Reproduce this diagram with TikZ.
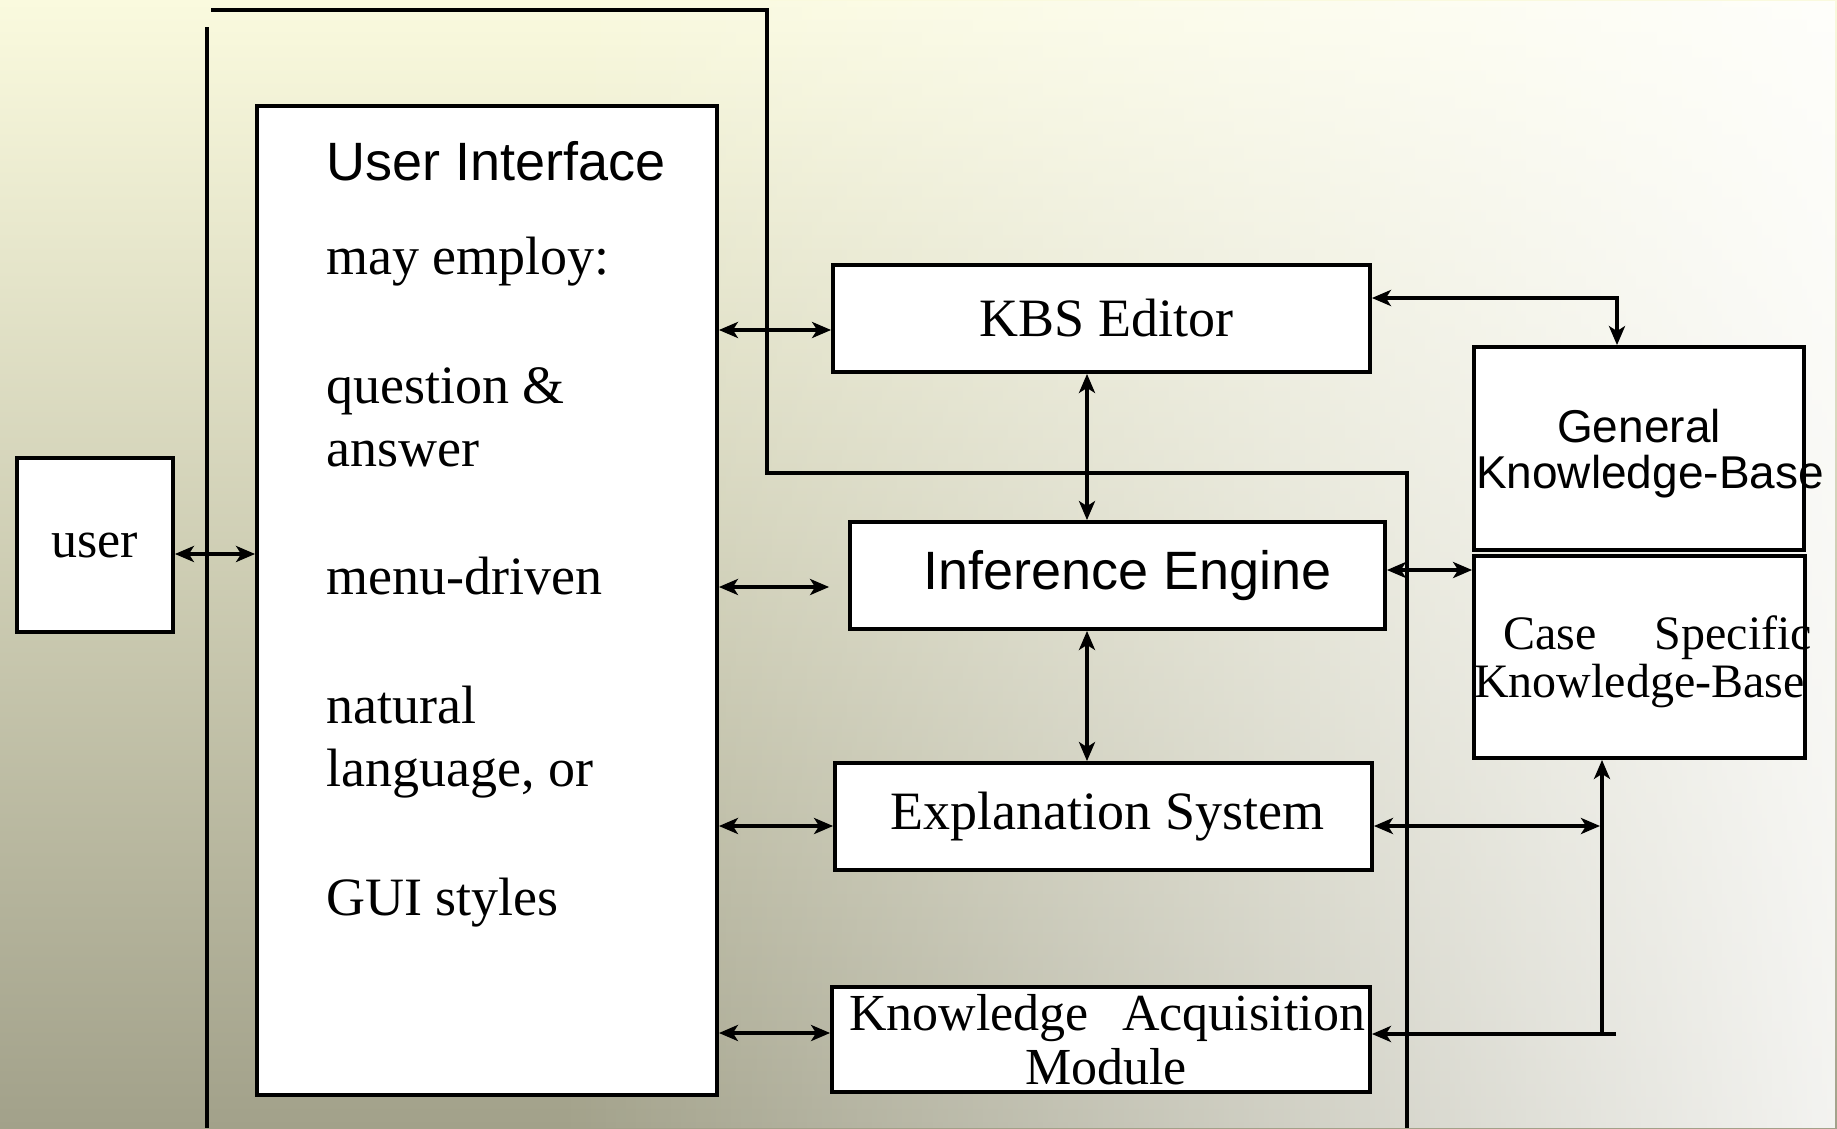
\documentclass[tikz,border=0pt]{standalone}
\usepackage{fontspec}
\setmainfont{Liberation Serif}
\newfontfamily\arialfont{Liberation Sans}
\usetikzlibrary{arrows.meta,fadings,calc}

\definecolor{bgtop}{HTML}{FAFADE}
\definecolor{bgmid}{HTML}{DAD9B9}
\definecolor{bgbot}{HTML}{A2A18A}

% white wash that grows towards the right edge
\tikzfading[name=washright, left color=transparent!100, middle color=transparent!72, right color=transparent!0]

\begin{document}
\begin{tikzpicture}[x=1pt,y=-1pt,
  box/.style={draw=black, line width=3.8pt, fill=white, inner sep=0pt, align=center},
  tipx/.tip={Stealth[length=19pt,width=16pt,inset=5pt]},
  link/.style={line width=3.4pt, tipx-tipx},
  onelink/.style={line width=3.4pt, -tipx},
  wire/.style={line width=3.4pt},
  serif/.style={font=\fontsize{54}{60}\selectfont},
  sans/.style={font=\arialfont\fontsize{54}{60}\selectfont},
  uitext/.style={anchor=base west, inner sep=0pt, serif},
  kbtext/.style={inner sep=0pt, align=center}]

% background
\useasboundingbox (0,0) rectangle (1837,1128);
\shade[top color=bgtop, middle color=bgmid, bottom color=bgbot] (0,0) rectangle (1837,1128);
\fill[white, path fading=washright, fill opacity=0.88] (560,0) rectangle (1837,1128);

% bus lines
\coordinate (busA) at (207,27);
\coordinate (busAend) at (207,1128);
\coordinate (busB) at (211,10);
\coordinate (busB1) at (767,10);
\coordinate (busB2) at (767,473);
\coordinate (busB3) at (1407,473);
\coordinate (busBend) at (1407,1128);
\draw[wire] (busA) -- (busAend);
\draw[wire] (busB) -- (busB1) -- (busB2) -- (busB3) -- (busBend);

% boxes
\node[box, minimum width=156pt, minimum height=174pt, font=\fontsize{52}{56}\selectfont] (user) at (95,545) {user};
\node[box, minimum width=460pt, minimum height=989pt] (ui) at (487,600.5) {};
\node[box, minimum width=537pt, minimum height=107pt, serif] (kbs) at (1101.5,318.5) {\makebox[0pt]{\hspace{10pt}KBS Editor}};
\node[box, minimum width=535pt, minimum height=107pt, font=\arialfont\fontsize{54}{60}\selectfont] (ie) at (1117.5,575.5) {\makebox[0pt]{\hspace{20pt}Inference Engine}};
\node[box, minimum width=537pt, minimum height=107pt, serif] (es) at (1103.5,816.5) {\makebox[0pt]{\hspace{8pt}Explanation System}};
\node[box, minimum width=538pt, minimum height=105pt, font=\fontsize{52}{54}\selectfont] (kam) at (1101,1039.5)
  {\makebox[0pt]{\hspace{12pt}\makebox[516pt]{Knowledge\hfill Acquisition}}\\\makebox[0pt]{\hspace{10pt}Module}};
\node[box, minimum width=330pt, minimum height=203pt] (gkb) at (1639,448.5) {};
\node[box, minimum width=331pt, minimum height=202pt] (cskb) at (1639.5,657) {};

% knowledge-base labels, drawn over the box borders
\node[kbtext, font=\arialfont\fontsize{46}{46}\selectfont] (gkbtext) at ($(gkb.center)+(0,5)$)
  {\makebox[0pt]{General}\\\makebox[0pt]{\hspace{22pt}Knowledge-Base}};
\node[kbtext, font=\fontsize{48}{48}\selectfont] (cskbtext) at ($(cskb.center)+(0,5)$)
  {\makebox[0pt]{\hspace{36pt}\makebox[309pt]{Case\hfill Specific}}\\\makebox[0pt]{Knowledge-Base}};

% user interface contents
\node[uitext, sans] (uit) at (326,180) {User Interface};
\node[uitext] (ui1) at (326,274) {may employ:};
\node[uitext] (ui2) at (326,403) {question \&};
\node[uitext] (ui3) at (326,466) {answer};
\node[uitext] (ui4) at (326,594) {menu-driven};
\node[uitext] (ui5) at (326,723) {natural};
\node[uitext] (ui6) at (326,786) {language, or};
\node[uitext] (ui7) at (326,915) {GUI styles};

% connector rows and columns
\coordinate (yu) at (0,554);
\coordinate (yk) at (0,330);
\coordinate (yi) at (0,587);
\coordinate (ye) at (0,826);
\coordinate (ya) at (0,1033);
\coordinate (yc) at (0,570);
\coordinate (ykg) at (0,298);
\coordinate (xv) at (1087,0);
\coordinate (xkg) at (1617,0);
\coordinate (xj) at (1602,0);
\coordinate (jb) at (1602,1034);
\coordinate (jend) at (1616,1034);

% connectors
\draw[link] (user.east |- yu) -- (ui.west |- yu);
\draw[link] (ui.east |- yk) -- (kbs.west |- yk);
\draw[link] (ui.east |- yi) -- ($(ie.west |- yi)+(-19,0)$);
\draw[link] (ui.east |- ye) -- (es.west |- ye);
\draw[link] (ui.east |- ya) -- (kam.west |- ya);
\draw[link] (kbs.south -| xv) -- (ie.north -| xv);
\draw[link] (ie.south -| xv) -- (es.north -| xv);
\draw[link] (kbs.east |- ykg) -| (gkb.north -| xkg);
\draw[link] (ie.east |- yc) -- (gkb.west |- yc);
\draw[link] (es.east |- ye) -- ($(xj |- ye)+(-2,0)$);
\draw[onelink] (jb) -- (cskb.south -| jb);
\draw[onelink] (jend) -- (kam.east |- jb);
\end{tikzpicture}
\end{document}
